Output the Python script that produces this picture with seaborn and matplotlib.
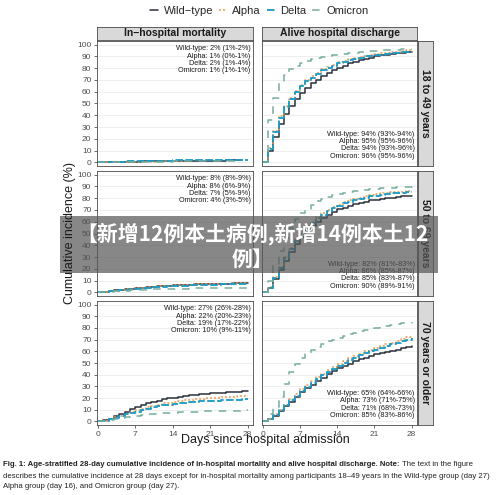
import pandas as pd
import seaborn as sns
import matplotlib.pyplot as plt
from matplotlib.lines import Line2D
from matplotlib.patches import Rectangle

sns.set_style("white")
plt.rcParams["font.family"] = ["Liberation Sans", "Noto Sans CJK SC", "DejaVu Sans"]

# --- data ------------------------------------------------------------------
variants = ["Wild−type", "Alpha", "Delta", "Omicron"]
col_titles = ["In−hospital mortality", "Alive hospital discharge"]
row_titles = ["18 to 49 years", "50 to 69 years", "70 years or older"]

# in-hospital mortality, cumulative % by day (0..28)
mort_18_49 = {
    "Wild−type": [0, 0.1, 0.3, 0.4, 0.5, 0.6, 0.7, 0.8, 0.9, 1.0, 1.0, 1.1, 1.2, 1.2, 1.3,
                  1.3, 1.4, 1.4, 1.5, 1.5, 1.5, 1.6, 1.6, 1.6, 1.7, 1.7, 1.7, 1.8],
    "Alpha": [0, 0.1, 0.2, 0.3, 0.4, 0.5, 0.6, 0.6, 0.7, 0.7, 0.8, 0.8, 0.9, 0.9, 0.9, 1.0, 1.0],
    "Delta": [0, 0.2, 0.4, 0.6, 0.8, 0.9, 1.0, 1.1, 1.2, 1.3, 1.4, 1.5, 1.6, 1.6, 1.7,
              1.7, 1.8, 1.8, 1.9, 1.9, 1.9, 2.0, 2.0, 2.0, 2.1, 2.1, 2.1, 2.2, 2.2],
    "Omicron": [0, 0.1, 0.2, 0.3, 0.4, 0.5, 0.5, 0.6, 0.6, 0.7, 0.7, 0.8, 0.8, 0.8, 0.9,
                0.9, 0.9, 1.0, 1.0, 1.0, 1.0, 1.1, 1.1, 1.1, 1.1, 1.2, 1.2, 1.2],
}
mort_50_69 = {
    "Wild−type": [0, 0.5, 1.1, 1.7, 2.3, 2.8, 3.3, 3.8, 4.2, 4.6, 5.0, 5.3, 5.6, 5.9, 6.1,
                  6.3, 6.5, 6.7, 6.9, 7.0, 7.2, 7.3, 7.4, 7.5, 7.6, 7.7, 7.8, 7.9, 8.0],
    "Alpha": [0, 0.4, 1.0, 1.6, 2.1, 2.6, 3.1, 3.6, 4.0, 4.4, 4.8, 5.1, 5.4, 5.7, 6.0,
              6.2, 6.4, 6.6, 6.8, 7.0, 7.1, 7.3, 7.4, 7.5, 7.6, 7.7, 7.8, 7.9, 8.0],
    "Delta": [0, 0.4, 0.9, 1.4, 1.9, 2.4, 2.9, 3.3, 3.7, 4.1, 4.4, 4.7, 5.0, 5.2, 5.5,
              5.7, 5.9, 6.0, 6.2, 6.3, 6.5, 6.6, 6.7, 6.8, 6.8, 6.9, 6.9, 7.0, 7.0],
    "Omicron": [0, 0.3, 0.6, 0.9, 1.2, 1.5, 1.8, 2.0, 2.2, 2.4, 2.6, 2.8, 2.9, 3.0, 3.1,
                3.2, 3.3, 3.4, 3.5, 3.6, 3.6, 3.7, 3.7, 3.8, 3.8, 3.9, 3.9, 4.0, 4.0],
}
mort_70 = {
    "Wild−type": [0, 1, 2.5, 4.5, 6.5, 8.5, 10.5, 12.5, 14, 15.5, 16.8, 17.8, 18.8, 19.7, 20.5,
                  21.2, 21.8, 22.3, 22.8, 23.2, 23.6, 24, 24.3, 24.6, 24.9, 25.2, 25.5, 25.8, 26],
    "Alpha": [0, 0.8, 2, 3.5, 5, 6.5, 8, 9.5, 11, 12.3, 13.5, 14.5, 15.4, 16.2, 16.9,
              17.5, 18, 18.5, 19, 19.4, 19.8, 20.1, 20.4, 20.7, 21, 21.2, 21.4, 21.6, 21.8],
    "Delta": [0, 0.8, 2, 3.3, 4.7, 6, 7.3, 8.5, 9.8, 11, 12, 12.9, 13.7, 14.4, 15,
              15.5, 16, 16.4, 16.8, 17.1, 17.4, 17.7, 17.9, 18.1, 18.3, 18.5, 18.7, 18.9, 19],
    "Omicron": [0, 0.6, 1.5, 2.4, 3.2, 4, 4.6, 5.1, 5.6, 6, 6.4, 6.7, 7, 7.3, 7.5,
                7.7, 7.9, 8.1, 8.3, 8.5, 8.7, 8.8, 8.9, 9, 9.1, 9.2, 9.3, 9.4, 9.5],
}

# alive hospital discharge, cumulative % by day (0..28)
disc_18_49 = {
    "Wild−type": [0, 10, 22, 33, 41, 48, 54, 59, 63, 67, 70, 73, 76, 78, 80,
                  82, 84, 85, 87, 88, 89, 90, 91, 91.5, 92, 92.5, 93, 93.5, 94],
    "Alpha": [0, 12, 27, 39, 48, 55, 61, 66, 70, 73, 76, 79, 81, 83, 85,
              86, 87.5, 88.5, 89.5, 90.5, 91.5, 92, 92.5, 93, 93.5, 94, 94.5, 95, 95],
    "Delta": [0, 11, 26, 38, 47, 54, 60, 65, 69, 72, 75, 78, 80, 82, 84,
              85.5, 87, 88, 89, 90, 90.5, 91, 91.5, 92, 92.5, 93, 93.5, 94, 94],
    "Omicron": [0, 36, 55, 67, 74, 79, 82, 84.5, 86, 87.5, 88.5, 89.5, 90.5, 91, 91.5,
                92, 92.5, 93, 93.5, 94, 94.2, 94.5, 95, 95.2, 95.5, 95.7, 95.8, 96, 96],
}
disc_50_69 = {
    "Wild−type": [0, 4, 11, 19, 27, 34, 41, 47, 52, 56, 60, 63, 66, 68.5, 70.5,
                  72, 73.5, 75, 76, 77, 78, 78.7, 79.4, 80, 80.5, 81, 81.4, 81.7, 82],
    "Alpha": [0, 5, 13, 22, 30, 38, 45, 51, 56, 60, 64, 67, 70, 72.5, 74.5,
              76.5, 78, 79.5, 80.5, 81.5, 82.5, 83.2, 84, 84.5, 85, 85.3, 85.6, 85.8, 86],
    "Delta": [0, 4, 12, 21, 29, 37, 44, 50, 55, 59, 63, 66, 69, 71.5, 73.5,
              75.5, 77, 78.5, 79.5, 80.5, 81.5, 82.2, 83, 83.5, 84, 84.3, 84.6, 84.8, 85],
    "Omicron": [0, 10, 23, 35, 46, 55, 62, 67, 71, 74.5, 77.5, 79.5, 81, 82.5, 83.5,
                84.5, 85.3, 86, 86.6, 87.2, 87.7, 88, 88.3, 88.6, 89, 89.3, 89.6, 89.8, 90],
}
disc_70 = {
    "Wild−type": [0, 2, 5, 9, 13, 17, 21, 25, 28.5, 31.5, 34.5, 37.5, 40.5, 43, 45.5,
                  47.5, 49.5, 51.5, 53, 54.5, 56, 57.5, 58.5, 59.5, 60.5, 61.5, 62.5, 63.5, 64.5],
    "Alpha": [0, 2.5, 6, 10, 14.5, 19, 23.5, 27.5, 31, 34.5, 38, 41, 44, 46.5, 49,
              51.5, 54, 56, 58, 60, 61.5, 63, 64.5, 66, 67.5, 69, 70.5, 72, 73],
    "Delta": [0, 2, 5.5, 9.5, 14, 18, 22, 26, 29.5, 33, 36.5, 39.5, 42.5, 45, 47.5,
              50, 52.5, 54.5, 56.5, 58.5, 60, 61.5, 63, 64.5, 66, 67.5, 68.5, 70, 71],
    "Omicron": [0, 6, 12, 21, 32, 42, 49, 54, 58, 61.5, 64, 66.5, 68.5, 70, 71.5,
                73, 74.5, 76, 77, 78, 79, 80, 81, 81.7, 82.5, 83.2, 83.8, 84.3, 85],
}

mort_labels = [
    ["Wild-type: 2% (1%-2%)", "Alpha: 1% (0%-1%)", "Delta: 2% (1%-4%)", "Omicron: 1% (1%-1%)"],
    ["Wild-type: 8% (8%-9%)", "Alpha: 8% (6%-9%)", "Delta: 7% (5%-9%)", "Omicron: 4% (3%-5%)"],
    ["Wild-type: 27% (26%-28%)", "Alpha: 22% (20%-23%)", "Delta: 19% (17%-22%)", "Omicron: 10% (9%-11%)"],
]
disc_labels = [
    ["Wild-type: 94% (93%-94%)", "Alpha: 95% (95%-96%)", "Delta: 94% (93%-96%)", "Omicron: 96% (95%-96%)"],
    ["Wild-type: 82% (81%-83%)", "Alpha: 86% (85%-87%)", "Delta: 85% (83%-87%)", "Omicron: 90% (89%-91%)"],
    ["Wild-type: 65% (64%-66%)", "Alpha: 73% (71%-75%)", "Delta: 71% (68%-73%)", "Omicron: 85% (83%-86%)"],
]

palette = {"Wild−type": "#2B303B", "Alpha": "#E49A52", "Delta": "#1E9BC6", "Omicron": "#78AE9E"}
dashes = {"Wild−type": "", "Alpha": (1.3, 1.3), "Delta": (4, 1.3), "Omicron": (5, 4.5)}
widths = {"Wild−type": 1.1, "Alpha": 1.1, "Delta": 1.35, "Omicron": 1.1}

W, H = 500, 495


def box(x0, y0, x1, y1):
    # pixel box (top-left origin) -> figure fraction rect
    return [x0 / W, 1 - y1 / H, (x1 - x0) / W, (y1 - y0) / H]


def to_long(panel):
    rows = []
    for v in variants:
        for d, val in enumerate(panel[v]):
            rows.append((v, d, val))
    return pd.DataFrame(rows, columns=["variant", "day", "value"])


fig = plt.figure(figsize=(5, 4.95), dpi=100)

col_x = [(97, 253), (262, 417)]
row_y = [(41, 166), (171, 296), (301, 425)]
panels = [[mort_18_49, disc_18_49], [mort_50_69, disc_50_69], [mort_70, disc_70]]
border = "#4A4A4A"

for r, (y0, y1) in enumerate(row_y):
    for c, (x0, x1) in enumerate(col_x):
        ax = fig.add_axes(box(x0, y0, x1, y1))
        df = to_long(panels[r][c])
        sns.lineplot(data=df, x="day", y="value", hue="variant", style="variant",
                     hue_order=variants, style_order=variants, palette=palette,
                     dashes=dashes, drawstyle="steps-post", legend=False, ax=ax)
        for line, v in zip(ax.get_lines(), variants):
            line.set_linewidth(widths[v])
        ax.set_xlim(-0.15, 29)
        ax.set_ylim(-3, 103)
        ax.set_yticks(range(0, 101, 10))
        ax.set_xticks([0, 7, 14, 21, 28])
        ax.grid(axis="y", color="#EBEBEB", lw=0.6)
        ax.set_axisbelow(True)
        ax.set_xlabel("")
        ax.set_ylabel("")
        for s in ax.spines.values():
            s.set_color(border)
            s.set_linewidth(0.6)
        ax.tick_params(length=2.5, width=0.5, color="#333333", labelsize=6,
                       labelcolor="#4D4D4D", pad=1.5)
        ax.tick_params(axis="y", left=(c == 0), labelleft=(c == 0))
        ax.tick_params(axis="x", bottom=(r == 2), labelbottom=(r == 2))
        if c == 0:
            ax.text(0.985, 0.965, "\n".join(mort_labels[r]), transform=ax.transAxes,
                    ha="right", va="top", multialignment="right", fontsize=5.2,
                    linespacing=1.05, color="#1A1A1A")
        else:
            ax.text(0.985, 0.05, "\n".join(disc_labels[r]), transform=ax.transAxes,
                    ha="right", va="bottom", multialignment="right", fontsize=5.2,
                    linespacing=1.05, color="#1A1A1A")


def strip(rect, label, rotation=0):
    sax = fig.add_axes(rect)
    sax.set_facecolor("#D9D9D9")
    sax.set_xticks([])
    sax.set_yticks([])
    for s in sax.spines.values():
        s.set_color(border)
        s.set_linewidth(0.6)
    sax.text(0.5, 0.5, label, ha="center", va="center", rotation=rotation,
             fontsize=7.5, fontweight="bold", color="#1A1A1A", transform=sax.transAxes)


for (x0, x1), t in zip(col_x, col_titles):
    strip(box(x0, 27, x1, 40), t)
for (y0, y1), t in zip(row_y, row_titles):
    strip(box(418, y0, 433, y1), t, rotation=-90)

fig.text(70 / W, 1 - 233 / H, "Cumulative incidence (%)", rotation=90,
         ha="center", va="center", fontsize=9, color="#1A1A1A")
fig.text(265 / W, 1 - 440 / H, "Days since hospital admission",
         ha="center", va="center", fontsize=9, color="#1A1A1A")

handles = [Line2D([], [], color=palette[v], lw=widths[v],
                  dashes=dashes[v] if dashes[v] else (None, None)) for v in variants]
fig.legend(handles, variants, loc="center", bbox_to_anchor=(259 / W, 1 - 11 / H),
           ncol=4, frameon=False, fontsize=8, handlelength=0.75, handletextpad=0.5,
           columnspacing=0.5, borderaxespad=0, borderpad=0)

# caption
cap_size = 5.6
cap_ax = fig.add_axes([0, 0, 1, 1], facecolor="none")
cap_ax.axis("off")
t1 = cap_ax.text(3 / W, 1 - 465 / H,
                 "Fig. 1: Age-stratified 28-day cumulative incidence of in-hospital "
                 "mortality and alive hospital discharge. Note:",
                 fontsize=cap_size, fontweight="bold", ha="left", va="center", color="#222222")
cap_ax.annotate(" The text in the figure", xy=(1, 0), xycoords=t1, ha="left",
                va="bottom", fontsize=cap_size, color="#222222", annotation_clip=False)
cap_ax.text(3 / W, 1 - 476 / H,
            "describes the cumulative incidence at 28 days except for in-hospital mortality "
            "among participants 18–49 years in the Wild-type group (day 27)",
            fontsize=cap_size, ha="left", va="center", color="#222222")
cap_ax.text(3 / W, 1 - 487 / H, "Alpha group (day 16), and Omicron group (day 27).",
            fontsize=cap_size, ha="left", va="center", color="#222222")

# overlay banner
cap_ax.add_patch(Rectangle((60 / W, 1 - 273 / H), 378 / W, 57 / H,
                           transform=cap_ax.transAxes, facecolor="#555555",
                           alpha=0.7, edgecolor="none", zorder=5))
cap_ax.text(252 / W, 1 - 246 / H, "【新增12例本土病例,新增14例本土12\n例】",
            ha="center", va="center", multialignment="center", fontsize=15,
            fontweight="bold", color="white", linespacing=1.25, zorder=6,
            family=["Noto Sans CJK SC", "DejaVu Sans"])

fig.savefig("out.png", dpi=100)
